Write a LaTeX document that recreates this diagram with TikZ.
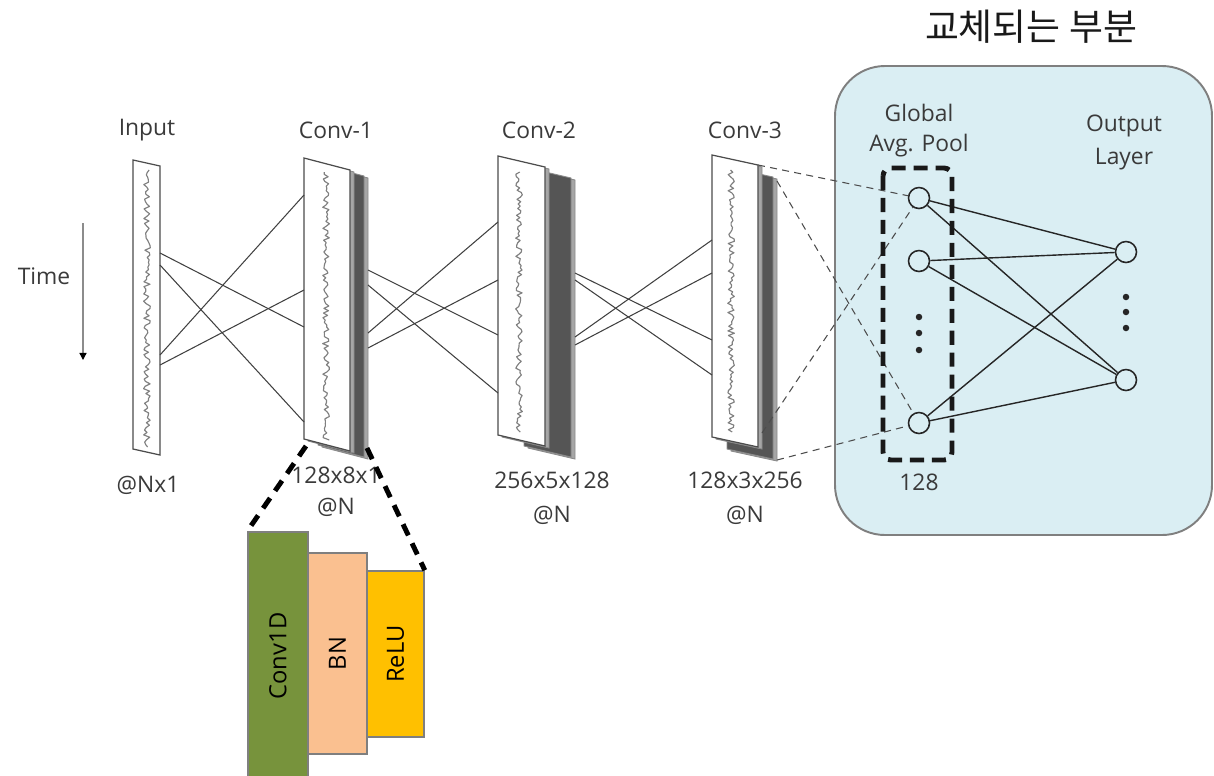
\documentclass[tikz,border=0pt]{standalone}
\usepackage{fontspec}
\setmainfont{Open Sans}
\newfontfamily\krfont{Noto Sans CJK KR}
\usetikzlibrary{arrows.meta}

\definecolor{panelblue}{HTML}{DAEEF3}
\definecolor{panelline}{HTML}{7F7F7F}
\definecolor{convgreen}{HTML}{77933C}
\definecolor{bnpeach}{HTML}{FAC090}
\definecolor{reluyellow}{HTML}{FFC000}
\definecolor{slabdark}{HTML}{555555}
\definecolor{slablight}{HTML}{A6A6A6}
\definecolor{slabedge}{HTML}{8A8A8A}
\definecolor{wavegray}{HTML}{808080}
\definecolor{labelgray}{HTML}{3A3A3A}

\tikzset{
  lbl/.style={font=\fontsize{13}{15}\selectfont, text=labelgray, inner sep=0pt},
  slabface/.style={draw=black!70, fill=white, line width=0.7pt},
  slabdk/.style={draw=slabedge, fill=slabdark, line width=0.5pt},
  slablt/.style={draw=slabedge, fill=slablight, line width=0.5pt},
  wave/.style={draw=wavegray, line width=0.65pt, line join=round},
  link/.style={draw=black!75, line width=0.6pt},
  panel/.style={draw=panelline, fill=panelblue, line width=1.1pt, rounded corners=1cm},
  neuron/.style={circle, draw=black!85, line width=0.9pt, inner sep=0pt, minimum size=0.42cm},
  dense/.style={draw=black!85, line width=0.8pt},
  feed/.style={draw=black!70, line width=0.6pt, dash pattern=on 4pt off 3pt},
  gapbox/.style={draw=black!90, line width=2.8pt, dash pattern=on 8pt off 4.5pt, rounded corners=0.16cm},
  zoomline/.style={draw=black, line width=2.8pt, dash pattern=on 7pt off 5pt},
  blockbox/.style={draw=panelline, line width=0.9pt, inner sep=0pt},
  blocktext/.style={rotate=90, font=\fontsize{13.5}{15}\selectfont, text=black, inner sep=0pt},
  dotmark/.style={circle, fill=black!85, inner sep=0pt, minimum size=0.13cm},
}

% one slab outline: style, x, top y, width, height, skew
\newcommand\slabquad[6]{%
  \draw[#1] (#2,#3) -- ++(#4,#6) -- ++(0,#5) -- ++(-#4,-#6) -- cycle;
}
% stack of feature maps: x, top y, width, height, skew, dx, dy
\newcommand\convstack[7]{%
  \slabquad{slablt}{#1+#6}{#2+#7}{#3}{#4}{#5}
  \slabquad{slabdk}{#1+#6-4}{#2+#7-2}{#3}{#4}{#5}
  \slabquad{slablt}{#1+4}{#2+2}{#3}{#4}{#5}
  \slabquad{slabface}{#1}{#2}{#3}{#4}{#5}
}
% signal trace: x, from y, to y
\newcommand\trace[3]{%
  \draw[wave] plot[samples=115, domain=#2:#3, variable=\t] ({#1+3.4*rand},\t);
}

\begin{document}
\begin{tikzpicture}[x=0.02cm,y=-0.02cm]
\useasboundingbox (0,0) rectangle (1214,775);
\pgfmathsetseed{4242}

% replaced part: title and panel
\node[font=\krfont\fontsize{21}{25}\selectfont, text=black!90, inner sep=0pt] (title) at (1031,27) {교체되는 부분};
\draw[panel] (835,66) rectangle (1212,535);

% time axis
\node[lbl] (time) at (44,276) {Time};
\coordinate (t0) at (83,223);
\coordinate (t1) at (83,360);
\draw[draw=black!45, line width=0.7pt, -{Triangle[width=4pt,length=4pt,color=black]}] (t0) -- (t1);

% feature maps
\slabquad{slabface}{133}{160}{27}{289}{6}
\trace{147}{170}{447}
\convstack{304}{158}{46}{281}{12}{18}{8}
\trace{326}{172}{440}
\convstack{498}{156}{47}{279}{11}{30}{13}
\trace{519}{172}{432}
\convstack{712}{155}{46}{282}{10}{19}{14}
\trace{731}{170}{432}

% layer titles and sizes
\node[lbl] (lin) at (147,130) {Input};
\node[lbl] (lc1) at (336,130) {Conv-1};
\node[lbl] (lc2) at (539,130) {Conv-2};
\node[lbl] (lc3) at (745,130) {Conv-3};
\node[lbl] (sin) at (148,485) {@Nx1};
\node[lbl] (sc1) at (336,475) {128x8x1};
\node[lbl] (nc1) at (336,507) {@N};
\node[lbl] (sc2) at (552,480) {256x5x128};
\node[lbl] (nc2) at (552,515) {@N};
\node[lbl] (sc3) at (745,480) {128x3x256};
\node[lbl] (nc3) at (745,515) {@N};

% connection end points
\foreach \n/\y in {1/253,2/265,3/355,4/365} \coordinate (inR\n) at (160,\y);
\foreach \n/\y in {1/195,2/290,3/327,4/422} \coordinate (c1L\n) at (304,\y);
\foreach \n/\y in {1/270,2/285,3/333,4/348} \coordinate (c1R\n) at (368,\y);
\foreach \n/\y in {1/222,2/280,3/335,4/393} \coordinate (c2L\n) at (498,\y);
\foreach \n/\y in {1/273,2/280,3/337,4/345} \coordinate (c2R\n) at (575,\y);
\foreach \n/\y in {1/240,2/273,3/340,4/375} \coordinate (c3L\n) at (712,\y);

\draw[link] (inR1) -- (c1L3);
\draw[link] (inR2) -- (c1L4);
\draw[link] (inR3) -- (c1L1);
\draw[link] (inR4) -- (c1L2);
\draw[link] (c1R1) -- (c2L3);
\draw[link] (c1R2) -- (c2L4);
\draw[link] (c1R3) -- (c2L1);
\draw[link] (c1R4) -- (c2L2);
\draw[link] (c2R1) -- (c3L3);
\draw[link] (c2R2) -- (c3L4);
\draw[link] (c2R3) -- (c3L1);
\draw[link] (c2R4) -- (c3L2);

% global average pooling and output layer
\node[lbl] (lg1) at (919,113) {Global};
\node[lbl] (lg2) at (919,146) {Avg. Pool};
\node[lbl] (lo1) at (1124,126) {Output};
\node[lbl] (lo2) at (1124,159) {Layer};
\node[lbl] (l128) at (919,482) {128};

\node[neuron] (g1) at (919,198) {};
\node[neuron] (g2) at (919,261) {};
\node[neuron] (g3) at (919,423) {};
\node[neuron] (o1) at (1126,252) {};
\node[neuron] (o2) at (1126,380) {};
\foreach \y [count=\i] in {317,333,350} \node[dotmark] (gd\i) at (919,\y) {};
\foreach \y [count=\i] in {297,312,328} \node[dotmark] (od\i) at (1126,\y) {};

\coordinate (c3a) at (758,165);
\coordinate (c3b) at (777,181);
\coordinate (c3c) at (762,433);
\coordinate (c3d) at (777,460);
\draw[feed] (c3a) -- (g1);
\draw[feed] (c3b) -- (g3);
\draw[feed] (c3c) -- (g1);
\draw[feed] (c3d) -- (g3);

\foreach \a in {g1,g2,g3}
  \foreach \b in {o1,o2}
    \draw[dense] (\a) -- (\b);

\draw[gapbox] (883,168) rectangle (952,460);

% Conv-1 block detail
\coordinate (zl0) at (306,446);
\coordinate (zr0) at (367,448);
\node[blockbox, fill=convgreen, minimum width=1.2cm, minimum height=4.96cm] (b1) at (278,656) {};
\node[blockbox, fill=bnpeach, minimum width=1.18cm, minimum height=4.02cm] (b2) at (337.5,653.5) {};
\node[blockbox, fill=reluyellow, minimum width=1.14cm, minimum height=3.32cm] (b3) at (395.5,654) {};
\draw[zoomline] (zl0) -- (b1.north west);
\draw[zoomline] (zr0) -- (b3.north east);
\node[blocktext] (t1) at (b1) {Conv1D};
\node[blocktext] (t2) at (b2) {BN};
\node[blocktext] (t3) at (b3) {ReLU};
\end{tikzpicture}
\end{document}
